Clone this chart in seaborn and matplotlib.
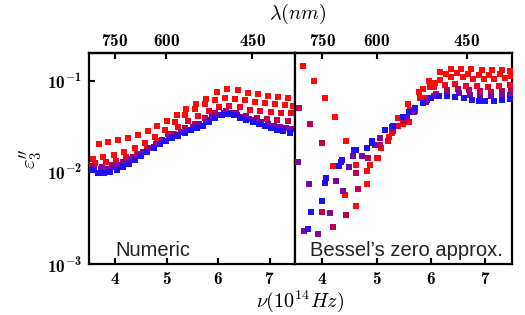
import numpy as np
import pandas as pd
import seaborn as sns
import matplotlib
matplotlib.use("Agg")
import matplotlib.pyplot as plt
from matplotlib.ticker import FixedLocator, FixedFormatter, NullLocator

# ---- data (nu in 1e14 Hz, eps'' dimensionless) ----
# Numeric panel
num_red1_x = [3.68, 3.87, 4.06, 4.26, 4.45, 4.64, 4.82, 5.00, 5.20, 5.38, 5.58, 5.77, 5.97, 6.18, 6.39, 6.58, 6.78, 6.97, 7.17, 7.36]
num_red1_y = [0.0205, 0.0214, 0.0223, 0.0239, 0.0257, 0.028, 0.032, 0.0364, 0.0423, 0.0488, 0.055, 0.063, 0.0746, 0.081, 0.0785, 0.074, 0.0709, 0.0684, 0.0667, 0.065]
num_red2_x = [3.58, 3.77, 3.98, 4.18, 4.39, 4.58, 4.78, 4.97, 5.17, 5.36, 5.55, 5.75, 5.94, 6.13, 6.33, 6.52, 6.72, 6.91, 7.10, 7.30, 7.46]
num_red2_y = [0.0140, 0.0145, 0.0155, 0.0165, 0.0183, 0.021, 0.0245, 0.0292, 0.0354, 0.042, 0.049, 0.056, 0.062, 0.064, 0.063, 0.061, 0.059, 0.057, 0.055, 0.054, 0.053]
num_red3_x = [3.62, 3.82, 4.02, 4.22, 4.42, 4.62, 4.82, 5.02, 5.22, 5.42, 5.62, 5.82, 6.02, 6.22, 6.42, 6.62, 6.82, 7.02, 7.22, 7.42]
num_red3_y = [0.0125, 0.0128, 0.0134, 0.0145, 0.016, 0.0185, 0.022, 0.026, 0.031, 0.036, 0.041, 0.047, 0.052, 0.053, 0.051, 0.048, 0.046, 0.045, 0.044, 0.044]
num_crim_x = [3.55, 3.75, 3.95, 4.15, 4.35, 4.55, 4.75, 4.95, 5.15, 5.35, 5.55, 5.75, 5.95, 6.15, 6.35, 6.55, 6.75, 6.95, 7.15, 7.35]
num_crim_y = [0.0118, 0.0115, 0.012, 0.013, 0.0145, 0.0165, 0.019, 0.022, 0.026, 0.030, 0.034, 0.039, 0.044, 0.046, 0.044, 0.041, 0.039, 0.038, 0.037, 0.036]
num_purp_x = [3.60, 3.72, 3.84, 3.96, 4.08, 4.20, 4.32, 4.44, 4.56, 4.68, 4.80, 4.92, 5.04, 5.16, 5.28, 5.40, 5.52, 5.64, 5.76, 5.88,
              6.00, 6.12, 6.24, 6.36, 6.48, 6.60, 6.72, 6.84, 6.96, 7.08, 7.20, 7.32, 7.44]
num_purp_y = [0.0112, 0.0109, 0.0109, 0.0113, 0.0119, 0.0128, 0.0140, 0.0153, 0.0168, 0.0186, 0.0205, 0.0223, 0.0241, 0.0257, 0.0275,
              0.0292, 0.0313, 0.0337, 0.0367, 0.0397, 0.0425, 0.0442, 0.0438, 0.0422, 0.0403, 0.0385, 0.0367, 0.0351, 0.0337, 0.0323,
              0.0311, 0.0302, 0.0296]
num_blue_x = [3.55, 3.67, 3.79, 3.91, 4.03, 4.15, 4.27, 4.39, 4.51, 4.63, 4.75, 4.87, 4.99, 5.11, 5.23, 5.35, 5.47, 5.59, 5.71, 5.83,
              5.95, 6.07, 6.19, 6.31, 6.43, 6.55, 6.67, 6.79, 6.91, 7.03, 7.15, 7.27, 7.39]
num_blue_y = [0.0105, 0.0099, 0.0097, 0.0100, 0.0107, 0.0114, 0.0124, 0.0136, 0.0150, 0.0165, 0.0183, 0.0201, 0.0219, 0.0236, 0.0251,
              0.0268, 0.0286, 0.0304, 0.0323, 0.0354, 0.0390, 0.0424, 0.0436, 0.0420, 0.0394, 0.0372, 0.0353, 0.0335, 0.0320, 0.0304,
              0.0290, 0.0280, 0.0271]

# Bessel's zero approx. panel
bes_red1_x = [3.65, 3.85, 4.04, 4.23, 4.43, 4.62, 4.82, 5.02, 5.22, 5.40, 5.58, 5.77, 5.96, 6.17, 6.36, 6.55, 6.74, 6.94, 7.13, 7.31, 7.46]
bes_red1_y = [0.145, 0.10, 0.065, 0.040, 0.022, 0.012, 0.0075, 0.0144, 0.0244, 0.0386, 0.0555, 0.0745, 0.10, 0.123, 0.133, 0.133, 0.133, 0.131, 0.129, 0.129, 0.126]
bes_red2_x = [4.20, 4.41, 4.62, 4.82, 4.88, 5.08, 5.28, 5.49, 5.62, 5.79, 5.99, 6.17, 6.37, 6.59, 6.78, 6.97, 7.17, 7.36]
bes_red2_y = [0.0116, 0.0057, 0.0043, 0.0103, 0.0119, 0.0186, 0.027, 0.034, 0.0476, 0.065, 0.085, 0.102, 0.110, 0.108, 0.105, 0.104, 0.104, 0.106]
bes_red3_x = [5.00, 5.20, 5.40, 5.59, 5.71, 5.90, 6.05, 6.25, 6.45, 6.65, 6.85, 7.05, 7.25, 7.45]
bes_red3_y = [0.0142, 0.022, 0.032, 0.0354, 0.0497, 0.064, 0.0846, 0.090, 0.091, 0.088, 0.087, 0.086, 0.087, 0.090]
bes_red4_x = [5.85, 6.08, 6.28, 6.48, 6.68, 6.88, 7.07, 7.27, 7.47]
bes_red4_y = [0.080, 0.095, 0.118, 0.121, 0.117, 0.114, 0.115, 0.117, 0.112]
bes_crim_x = [3.57, 3.77, 3.99, 3.99, 4.20, 4.44, 4.65, 4.62, 4.84, 5.06, 5.30, 5.50, 5.70, 5.93, 6.10, 6.30, 6.50, 6.70, 6.90, 7.10, 7.30, 7.48]
bes_crim_y = [0.0497, 0.0337, 0.0208, 0.0037, 0.0025, 0.0034, 0.0066, 0.0098, 0.0144, 0.0197, 0.028, 0.036, 0.046, 0.061, 0.072, 0.078, 0.080, 0.078, 0.076, 0.075, 0.076, 0.078]
bes_purp_x = [3.55, 3.66, 3.76, 3.91, 4.14, 4.25, 4.38, 4.49, 4.57, 4.73, 4.97, 5.06, 5.28, 5.56, 5.68, 5.90, 6.05, 6.30, 6.51, 6.72, 6.90, 7.10, 7.30, 7.45]
bes_purp_y = [0.0129, 0.0023, 0.0074, 0.0021, 0.0036, 0.0081, 0.0062, 0.0114, 0.015, 0.0152, 0.0197, 0.0237, 0.0308, 0.040, 0.0456, 0.0588, 0.067, 0.071, 0.073, 0.070, 0.068, 0.068, 0.069, 0.070]
bes_blue_x = [3.74, 3.78, 4.00, 4.05, 4.06, 4.31, 4.34, 4.36, 4.59, 4.62, 4.82, 4.91, 4.92, 5.16, 5.30, 5.49, 5.60, 5.71, 5.85, 6.00,
              6.15, 6.30, 6.45, 6.60, 6.75, 6.88, 7.00, 7.17, 7.30, 7.45]
bes_blue_y = [0.0024, 0.0037, 0.0048, 0.0076, 0.0086, 0.0116, 0.013, 0.0137, 0.0173, 0.0173, 0.0182, 0.022, 0.0208, 0.0287, 0.032, 0.040,
              0.045, 0.0497, 0.057, 0.064, 0.068, 0.068, 0.066, 0.064, 0.061, 0.0598, 0.060, 0.0598, 0.061, 0.063]

top_wl = [750, 600, 450]          # nm
x_ticks = [4, 5, 6, 7]
y_ticks = [1e-3, 1e-2, 1e-1]
y_tick_labels = [r'$\mathbf{10^{-3}}$', r'$\mathbf{10^{-2}}$', r'$\mathbf{10^{-1}}$']

colors = {'red': '#ff0a0a', 'red3': '#f5001e', 'crim': '#c00050', 'purp': '#7a0a9a', 'blue': '#2010f5'}

sns.set_style("ticks", {'axes.edgecolor': 'black', 'xtick.color': 'black', 'ytick.color': 'black',
                        'text.color': 'black', 'axes.labelcolor': 'black'})
plt.rcParams['mathtext.fontset'] = 'custom'
plt.rcParams['mathtext.rm'] = 'cmr10'
plt.rcParams['mathtext.it'] = 'cmmi10'
plt.rcParams['mathtext.bf'] = 'cmb10'
plt.rcParams['mathtext.fallback'] = 'cm'
plt.rcParams['font.family'] = ['Liberation Sans', 'DejaVu Sans']

fig = plt.figure(figsize=(5.25, 3.15), dpi=100)
gs = fig.add_gridspec(1, 2, width_ratios=[206, 217], wspace=0,
                      left=0.170, right=0.976, top=0.832, bottom=0.162)
ax1 = fig.add_subplot(gs[0])
ax2 = fig.add_subplot(gs[1], sharey=ax1)

panels = [
    (ax1, [(num_red1_x, num_red1_y, 'red'), (num_red2_x, num_red2_y, 'red'), (num_red3_x, num_red3_y, 'red3'),
           (num_crim_x, num_crim_y, 'crim'), (num_purp_x, num_purp_y, 'purp'), (num_blue_x, num_blue_y, 'blue')], 'Numeric'),
    (ax2, [(bes_red1_x, bes_red1_y, 'red'), (bes_red2_x, bes_red2_y, 'red'), (bes_red3_x, bes_red3_y, 'red3'),
           (bes_red4_x, bes_red4_y, 'red'),
           (bes_crim_x, bes_crim_y, 'crim'), (bes_purp_x, bes_purp_y, 'purp'), (bes_blue_x, bes_blue_y, 'blue')], 'Bessel\u2019s zero approx.'),
]

nu_of_wl = lambda wl: 2997.92458 / np.asarray(wl, dtype=float)

for ax, groups, name in panels:
    for gx, gy, c in groups:
        df = pd.DataFrame({'nu': gx, 'eps': gy})
        sns.scatterplot(data=df, x='nu', y='eps', color=colors[c], marker='s', s=14,
                        linewidth=0, ax=ax, zorder=3)
    ax.set_yscale('log')
    ax.set_xlim(3.5, 7.5)
    ax.set_ylim(1e-3, 0.2)
    ax.set_xlabel('')
    ax.set_ylabel('')
    ax.xaxis.set_major_locator(FixedLocator(x_ticks))
    ax.xaxis.set_major_formatter(FixedFormatter([r'$\mathbf{%d}$' % t for t in x_ticks]))
    ax.yaxis.set_minor_locator(NullLocator())
    ax.tick_params(direction='in', length=4, width=1.5, labelsize=12.5, pad=5)
    for sp in ax.spines.values():
        sp.set_linewidth(1.6)
        sp.set_color('black')
        sp.set_visible(True)
    sec = ax.secondary_xaxis('top', functions=(nu_of_wl, nu_of_wl))
    sec.set_xticks(top_wl)
    sec.set_xticklabels([r'$\mathbf{%d}$' % w for w in top_wl])
    sec.xaxis.set_minor_locator(NullLocator())
    sec.tick_params(direction='in', length=4, width=1.5, labelsize=12.5, pad=3)
    sec.spines['top'].set_linewidth(1.6)
    sec.spines['top'].set_color('black')
    ax.text(0.126 if ax is ax1 else 0.069, 0.04, name, transform=ax.transAxes,
            fontsize=14.5, color='#222222', va='baseline', ha='left')

ax1.yaxis.set_major_locator(FixedLocator(y_ticks))
ax1.yaxis.set_major_formatter(FixedFormatter(y_tick_labels))
ax1.set_ylabel(r"$\varepsilon_3^{\prime\prime}$", fontsize=15, labelpad=2)
ax2.tick_params(axis='y', left=False, labelleft=False)

fig.text(0.572, 0.045, r'$\nu(10^{14}Hz)$', ha='center', va='center', fontsize=14.5)
fig.text(0.566, 0.955, r'$\lambda(nm)$', ha='center', va='center', fontsize=14.5)

fig.savefig('out.png', dpi=100)
